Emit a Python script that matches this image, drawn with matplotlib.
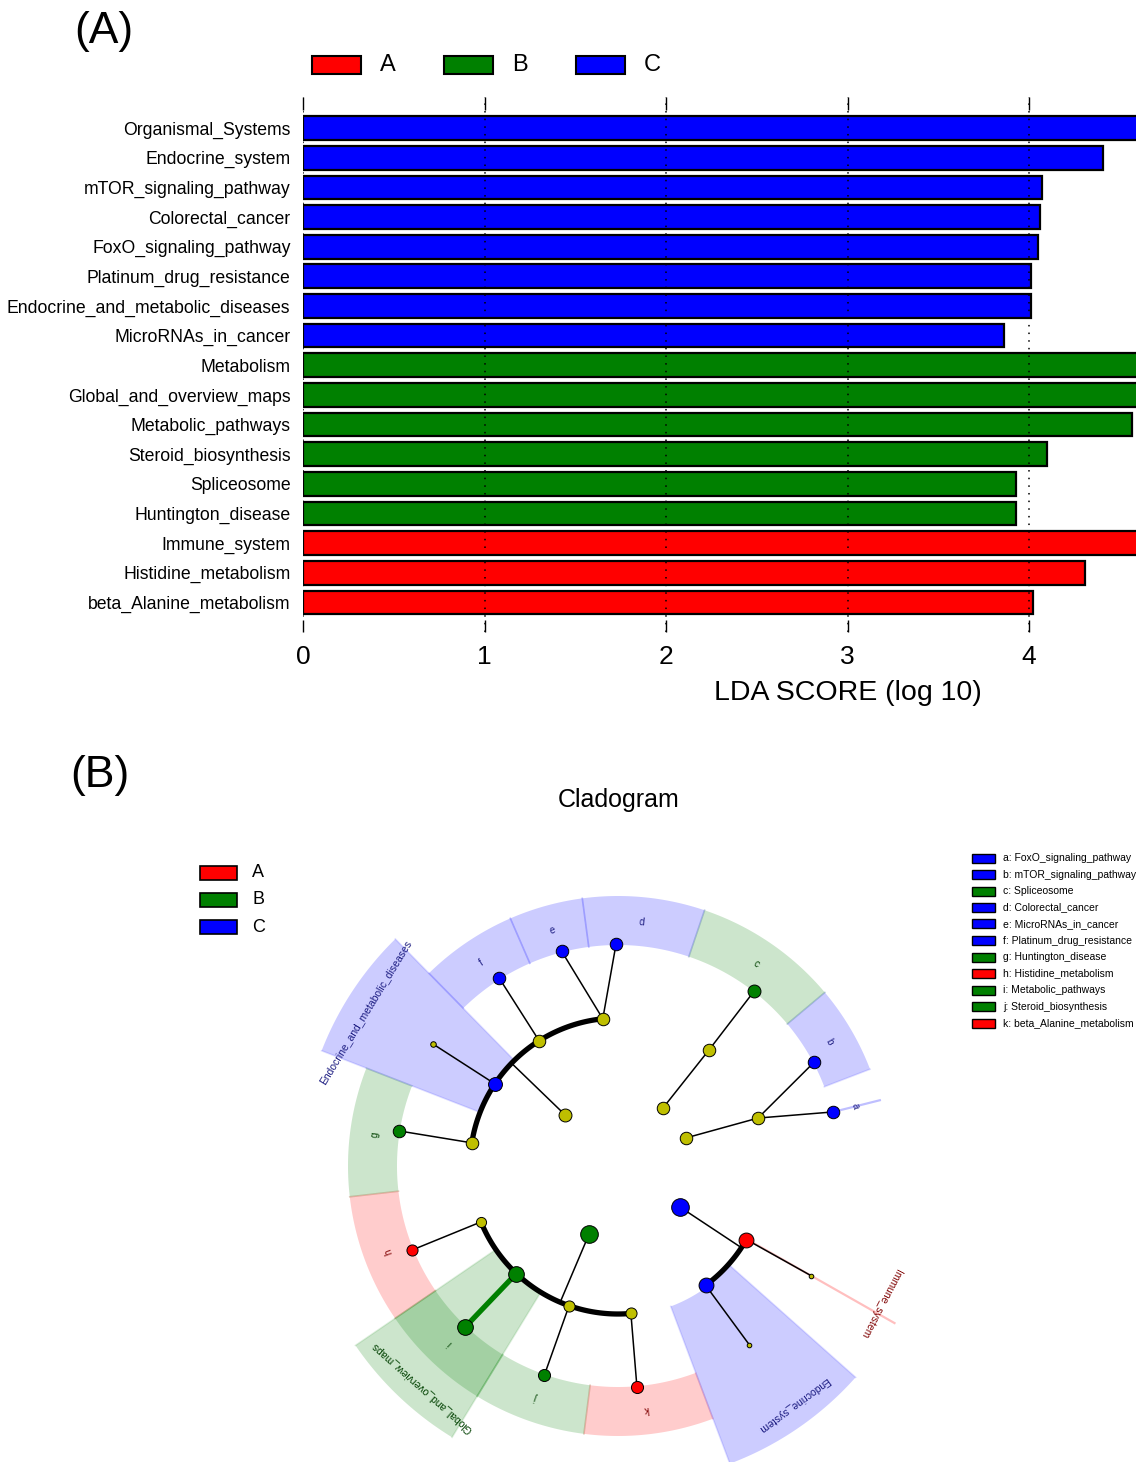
import numpy as np
import matplotlib
matplotlib.use('Agg')
import matplotlib.pyplot as plt
from matplotlib.patches import Rectangle, Polygon

plt.rcParams['font.family'] = ['Liberation Sans', 'DejaVu Sans']

W, H = 1136, 1462

# ---- LDA scores, top to bottom ----
features = ['Organismal_Systems', 'Endocrine_system', 'mTOR_signaling_pathway',
            'Colorectal_cancer', 'FoxO_signaling_pathway', 'Platinum_drug_resistance',
            'Endocrine_and_metabolic_diseases', 'MicroRNAs_in_cancer', 'Metabolism',
            'Global_and_overview_maps', 'Metabolic_pathways', 'Steroid_biosynthesis',
            'Spliceosome', 'Huntington_disease', 'Immune_system',
            'Histidine_metabolism', 'beta_Alanine_metabolism']
lda = [4.86, 4.41, 4.07, 4.06, 4.05, 4.01, 4.01, 3.86, 5.12,
       5.05, 4.57, 4.10, 3.93, 3.93, 4.74, 4.31, 4.02]
groups = ['C'] * 8 + ['B'] * 6 + ['A'] * 3
class_names = ['A', 'B', 'C']
class_col = {'A': '#ff0000', 'B': '#008000', 'C': '#0000ff'}
text_col = {'A': '#7f0000', 'B': '#004000', 'C': '#1a1a80'}
xtick_labels = ['0', '1', '2', '3', '4', '', '']

# ---- cladogram (KEGG levels), angles in degrees ----
l1_angle = [22.4, 52.2, 136.0, 247.0, 326.5]
l1_class = [None, None, None, 'B', 'C']
l1_size = [9, 9, 9.3, 12.7, 12.7]

l2_angle = [18.9, 51.9, 95.9, 122.2, 146.3, 171.0, 202.2, 226.6, 250.7, 275.0, 306.3, 330.2]
l2_parent = [0, 1, 2, 2, 2, 2, 3, 3, 3, 3, 4, 4]
l2_class = [None, None, None, None, 'C', None, None, 'B', None, None, 'C', 'A']
l2_size = [9, 9, 9, 9, 10, 9, 7.3, 11.3, 8, 8, 10.7, 10.7]
l2_label = ['', '', '', '', 'Endocrine_and_metabolic_diseases', '', '',
            'Global_and_overview_maps', '', '', 'Endocrine_system', 'Immune_system']

l3_angle = [14.1, 27.9, 52.1, 90.5, 104.7, 122.3, 146.6, 170.9, 202.2, 226.5, 250.6, 274.9, 306.3, 330.4]
l3_parent = [0, 0, 1, 2, 2, 3, 4, 5, 6, 7, 8, 9, 10, 11]
l3_class = ['C', 'C', 'B', 'C', 'C', 'C', None, 'B', 'A', 'B', 'B', 'A', None, None]
l3_size = [9, 9, 9.3, 9, 9, 9, 4, 9, 8, 11.3, 8.7, 8.7, 3.3, 3.3]
l3_letter = ['a', 'b', 'c', 'd', 'e', 'f', '', 'g', 'h', 'i', 'j', 'k', '', '']
l3_name = ['FoxO_signaling_pathway', 'mTOR_signaling_pathway', 'Spliceosome',
           'Colorectal_cancer', 'MicroRNAs_in_cancer', 'Platinum_drug_resistance', '',
           'Huntington_disease', 'Histidine_metabolism', 'Metabolic_pathways',
           'Steroid_biosynthesis', 'beta_Alanine_metabolism', '', '']

fig = plt.figure(figsize=(W / 100, H / 100), dpi=100)


def fx(px):
    return px / W


def fy(py):
    return 1 - py / H


def box(x0, y0, w, h, color, lw=1.5):
    fig.add_artist(Rectangle((fx(x0), fy(y0 + h)), w / W, h / H, transform=fig.transFigure,
                             facecolor=color, edgecolor='black', lw=lw))


# ================= (A) LDA bar chart =================
ax = fig.add_axes([fx(303), fy(632), (1392 - 303) / W, (632 - 97) / H])
ypos = np.arange(len(features))
ax.barh(ypos, lda, height=0.8, color=[class_col[g] for g in groups],
        edgecolor='black', linewidth=1.6, zorder=1)
ax.set_xlim(0, 6)
ax.set_ylim(len(features) - 1 + 1.0, -1.05)
ax.set_yticks(ypos)
ax.set_yticklabels(features, fontsize=12.7)
ax.set_xticks(range(7))
ax.set_xticklabels(xtick_labels)
ax.tick_params(axis='y', length=0, pad=9)
ax.tick_params(axis='x', direction='in', length=9, width=1, top=True, labelsize=19, pad=9)
for s in ax.spines.values():
    s.set_visible(False)
ax.set_axisbelow(False)
ax.grid(axis='x', linestyle=(0, (1, 4)), color='black', linewidth=1.1)
ax.set_xlabel('LDA SCORE (log 10)', fontsize=20.5, labelpad=8)

fig.text(fx(104), fy(32), '(A)', fontsize=32, ha='center', va='center')
for k, c in enumerate(class_names):
    x0 = 312 + 132 * k
    box(x0, 56, 49, 18, class_col[c])
    fig.text(fx(x0 + 68), fy(65), c, fontsize=17, ha='left', va='center')

# ================= (B) cladogram =================
fig.text(fx(100), fy(775), '(B)', fontsize=32, ha='center', va='center')
fig.text(fx(619), fy(800), 'Cladogram', fontsize=18, ha='center', va='center')

unit = 74.0
half = 420.0
cx_px, cy_px = 618, 1166
ax2 = fig.add_axes([fx(cx_px - half), fy(cy_px + half), 2 * half / W, 2 * half / H])
lim = half / unit
ax2.set_xlim(-lim, lim)
ax2.set_ylim(-lim, lim)
ax2.axis('off')


def pol(theta, r):
    t = np.radians(theta)
    return r * np.cos(t), r * np.sin(t)


def sector(lo, hi, r_in, r_out, color, z=1):
    if hi - lo < 1e-6:
        ax2.plot(*pol(np.array([lo, lo]), np.array([r_in, r_out])), color=color,
                 alpha=0.25, lw=1.6, zorder=z)
        return
    t = np.linspace(lo, hi, 60)
    xo, yo = pol(t, r_out)
    xi, yi = pol(t[::-1], r_in)
    pts = np.column_stack([np.r_[xo, xi], np.r_[yo, yi]])
    ax2.add_patch(Polygon(pts, closed=True, facecolor=color, edgecolor='none',
                          alpha=0.2, zorder=z))
    for a in (lo, hi):
        ax2.plot(*pol(np.array([a, a]), np.array([r_in, r_out])), color=color,
                 alpha=0.12, lw=1.2, zorder=z)


# highlighted sectors for significant leaves
mids = [(l3_angle[i] + l3_angle[i + 1]) / 2 for i in range(len(l3_angle) - 1)]
lo_b = [l3_angle[0]] + mids
hi_b = mids + [l3_angle[-1]]
lo_b[-1] = l3_angle[-1]
hi_b[0] = l3_angle[0]
for i, c in enumerate(l3_class):
    if c is None:
        continue
    sector(lo_b[i], hi_b[i], 221 / unit, 270 / unit, class_col[c])
    mid = (lo_b[i] + hi_b[i]) / 2
    x, y = pol(mid, 245 / unit)
    ax2.text(x, y, l3_letter[i], fontsize=7, color=text_col[c], rotation=mid - 90,
             rotation_mode='anchor', ha='center', va='center', zorder=6)

# highlighted sectors for significant level-2 nodes (span of their leaves)
for j, c in enumerate(l2_class):
    if c is None:
        continue
    kids = [i for i, p in enumerate(l3_parent) if p == j]
    lo, hi = min(lo_b[i] for i in kids), max(hi_b[i] for i in kids)
    sector(lo, hi, 150 / unit, 318 / unit, class_col[c])
    mid = (lo + hi) / 2 + 2
    x, y = pol(mid, 296 / unit)
    ax2.text(x, y, l2_label[j], fontsize=7.5, color=text_col[c], rotation=mid - 90,
             rotation_mode='anchor', ha='center', va='center', zorder=6)

# branches: level 1 -> level 2
for p in range(len(l1_angle)):
    kids = [j for j, q in enumerate(l2_parent) if q == p]
    if len(kids) == 1:
        x0, y0 = pol(l1_angle[p], 1)
        x1, y1 = pol(l2_angle[kids[0]], 2)
        ax2.plot([x0, x1], [y0, y1], color='black', lw=1.1, zorder=3)
    else:
        x0, y0 = pol(l1_angle[p], 1)
        x1, y1 = pol(l1_angle[p], 2)
        ax2.plot([x0, x1], [y0, y1], color='black', lw=1.1, zorder=3)
        t = np.linspace(min(l2_angle[j] for j in kids), max(l2_angle[j] for j in kids), 80)
        ax2.plot(*pol(t, 2), color='black', lw=3.8, solid_capstyle='butt', zorder=3)

# branches: level 2 -> level 3
for i, p in enumerate(l3_parent):
    x0, y0 = pol(l2_angle[p], 2)
    x1, y1 = pol(l3_angle[i], 3)
    if l3_class[i] is not None and l3_class[i] == l2_class[p]:
        ax2.plot([x0, x1], [y0, y1], color=class_col[l3_class[i]], lw=3.8, zorder=3.5)
    else:
        ax2.plot([x0, x1], [y0, y1], color='black', lw=1.1, zorder=3)

# nodes
for angles, classes, sizes, r in [(l1_angle, l1_class, l1_size, 1),
                                  (l2_angle, l2_class, l2_size, 2),
                                  (l3_angle, l3_class, l3_size, 3)]:
    for t, c, s in zip(angles, classes, sizes):
        x, y = pol(t, r)
        ax2.plot(x, y, 'o', ms=s, mfc=class_col[c] if c else '#bfbf00',
                 mec='black', mew=0.7, zorder=5)

# class legend (left)
for k, c in enumerate(class_names):
    y0 = 866 + 27 * k
    box(200, y0, 37, 14, class_col[c], lw=1.2)
    fig.text(fx(252), fy(y0 + 7), c, fontsize=13, ha='left', va='center')

# letter key (right)
k = 0
for i, c in enumerate(l3_class):
    if c is None:
        continue
    y0 = 858 + 16.5 * k
    box(972, y0 - 4.5, 23, 9, class_col[c], lw=1.0)
    fig.text(fx(1003), fy(y0), f'{l3_letter[i]}: {l3_name[i]}', fontsize=7.5,
             ha='left', va='center')
    k += 1

fig.savefig('out.png', dpi=100)
